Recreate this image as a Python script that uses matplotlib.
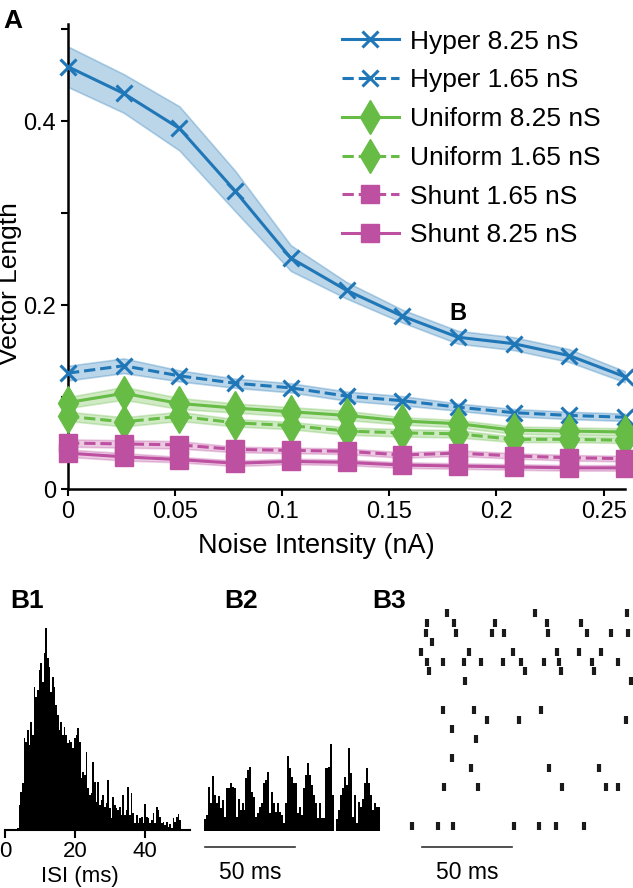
import numpy as np
import matplotlib
matplotlib.use("Agg")
import matplotlib.pyplot as plt

plt.rcParams['font.family'] = ['Liberation Sans', 'DejaVu Sans']

# ---- panel A data ----
noise = [0, 0.026, 0.052, 0.078, 0.104, 0.13, 0.156, 0.182, 0.208, 0.234, 0.26]

hyper_825 = [0.459, 0.430, 0.392, 0.324, 0.251, 0.216, 0.188, 0.165, 0.158, 0.145, 0.122]
hyper_825_err = [0.022, 0.021, 0.024, 0.022, 0.014, 0.009, 0.007, 0.007, 0.007, 0.007, 0.006]
hyper_165 = [0.126, 0.134, 0.123, 0.115, 0.110, 0.101, 0.096, 0.089, 0.083, 0.080, 0.078]
hyper_165_err = [0.008, 0.008, 0.006, 0.005, 0.005, 0.005, 0.005, 0.004, 0.004, 0.004, 0.004]
unif_825 = [0.094, 0.104, 0.093, 0.088, 0.084, 0.080, 0.074, 0.071, 0.064, 0.063, 0.062]
unif_825_err = [0.006, 0.007, 0.006, 0.005, 0.005, 0.005, 0.004, 0.004, 0.004, 0.004, 0.004]
unif_165 = [0.079, 0.073, 0.079, 0.072, 0.069, 0.063, 0.061, 0.060, 0.054, 0.054, 0.053]
unif_165_err = [0.005, 0.005, 0.005, 0.004, 0.004, 0.004, 0.004, 0.004, 0.003, 0.003, 0.003]
shunt_165 = [0.050, 0.049, 0.048, 0.043, 0.042, 0.041, 0.037, 0.039, 0.036, 0.034, 0.033]
shunt_165_err = [0.004, 0.004, 0.004, 0.003, 0.003, 0.003, 0.003, 0.003, 0.003, 0.003, 0.003]
shunt_825 = [0.039, 0.035, 0.032, 0.028, 0.030, 0.029, 0.026, 0.025, 0.024, 0.023, 0.023]
shunt_825_err = [0.004, 0.004, 0.003, 0.003, 0.003, 0.003, 0.003, 0.003, 0.003, 0.003, 0.003]

# ---- panel B1: ISI histogram (counts) ----
isi_start = 3.4
isi_bin = 0.48
isi_counts = [2, 25, 38, 47, 92, 88, 100, 85, 108, 95, 143, 133, 140, 160, 167, 148,
              177, 202, 172, 163, 138, 153, 143, 125, 115, 100, 108, 95, 103, 95, 87, 90,
              88, 82, 92, 95, 102, 88, 52, 58, 55, 78, 42, 35, 37, 68, 48, 28,
              48, 25, 30, 35, 23, 27, 50, 22, 12, 33, 25, 22, 20, 23, 15, 35, 15,
              20, 43, 15, 37, 17, 7, 15, 7, 12, 13, 7, 26, 13, 12, 7, 10,
              17, 7, 23, 20, 13, 7, 8, 5, 8, 3, 6, 2, 12, 8, 13, 16, 10]

# ---- panel B2: spike-time histogram ----
psth_bin = 1.1
psth_counts = [12, 16, 44, 28, 55, 36, 28, 35, 23, 31, 14, 43, 43, 48, 44, 43,
               14, 32, 21, 28, 21, 53, 61, 64, 39, 34, 14, 18, 24, 28, 48, 51,
               59, 18, 39, 28, 19, 28, 19, 16, 8, 28, 75, 63, 54, 48,
               48, 18, 24, 16, 43, 56, 68, 56, 46, 36, 28, 13, 28, 13, 13, 63,
               63, 64, 87, 36, 0, 12, 21, 36, 43, 54, 46, 83, 58, 14, 36, 8,
               29, 24, 32, 48, 63, 48, 36, 21, 28, 24, 24]

# ---- panel B3: raster (trial -> spike times, ms) ----
raster_trials = {
    0: [24.1, 73.1, 124.4],
    1: [13.3, 28.1, 51.1, 80.0, 98.5],
    2: [12.4, 29.3, 49.4, 56.1, 80.2, 102.2, 115.2, 125.0],
    3: [16.1],
    4: [9.8, 36.7, 60.7, 85.2, 97.6, 109.8],
    5: [13.0, 22.2, 33.7, 43.0, 55.6, 65.2, 78.3, 86.5, 104.6, 119.1],
    6: [14.3, 67.4, 87.6, 106.1],
    7: [34.4, 126.3],
    10: [21.9, 39.1, 76.3],
    11: [46.3, 64.3, 123.5],
    12: [26.9],
    13: [40.2],
    15: [26.9],
    16: [37.6, 80.9, 108.7],
    18: [22.8, 41.5, 88.0, 112.6, 119.4],
    22: [4.6, 19.4, 27.8, 61.5, 75.4, 84.6, 100.4],
}

blue = '#2077b7'
green = '#67bc45'
pink = '#bd50a1'

fig = plt.figure(figsize=(6.33, 8.88), dpi=100)

# ================= panel A =================
ax = fig.add_axes([0.1074, 0.4493, 0.8800, 0.5232])

series = [
    (hyper_825, hyper_825_err, blue, '-', 'x', 'Hyper 8.25 nS'),
    (hyper_165, hyper_165_err, blue, '--', 'x', 'Hyper 1.65 nS'),
    (unif_825, unif_825_err, green, '-', 'd', 'Uniform 8.25 nS'),
    (unif_165, unif_165_err, green, '--', 'd', 'Uniform 1.65 nS'),
    (shunt_165, shunt_165_err, pink, '--', 's', 'Shunt 1.65 nS'),
    (shunt_825, shunt_825_err, pink, '-', 's', 'Shunt 8.25 nS'),
]
msize = {'x': 11, 'd': 17, 's': 13}
for vals, err, col, ls, mk, lab in series:
    vals = np.array(vals)
    err = np.array(err)
    ax.fill_between(noise, vals - err, vals + err, color=col, alpha=0.3, lw=1.2)
    ax.plot(noise, vals, color=col, ls=ls, lw=2.2, marker=mk, ms=msize[mk],
            mew=2.2 if mk == 'x' else 1, label=lab, clip_on=False, zorder=3)

ax.set_xlim(0, 0.26)
ax.set_ylim(0, 0.505)
ax.set_xticks([0, 0.05, 0.1, 0.15, 0.2, 0.25])
ax.set_xticklabels(['0', '0.05', '0.1', '0.15', '0.2', '0.25'])
ax.set_yticks([0, 0.1, 0.2, 0.3, 0.4, 0.5])
ax.set_yticklabels(['0', '', '0.2', '', '0.4', ''])
ax.tick_params(labelsize=17, width=1.5, length=5, direction='out')
for s in ['top', 'right']:
    ax.spines[s].set_visible(False)
for s in ['left', 'bottom']:
    ax.spines[s].set_linewidth(1.8)
ax.set_xlabel('Noise Intensity (nA)', fontsize=19.5)
ax.xaxis.set_label_coords(0.445, -0.095)
ax.set_ylabel('Vector Length', fontsize=19)
ax.yaxis.set_label_coords(-0.082, 0.443)

ax.legend(loc='upper left', bbox_to_anchor=(0.449, 1.04), frameon=False, fontsize=19,
          handlelength=2.15, handletextpad=0.45, labelspacing=0.56)
ax.text(0.182, 0.191, 'B', fontsize=17, fontweight='bold', ha='center', va='center')
fig.text(0.006, 0.99, 'A', fontsize=19, fontweight='bold', ha='left', va='top')

# ================= panel B1 =================
ax1 = fig.add_axes([0.0079, 0.0653, 0.2923, 0.2365])
edges = isi_start + isi_bin * np.arange(len(isi_counts))
ax1.bar(edges, isi_counts, width=isi_bin, align='edge', color='black', lw=0)
ax1.set_xlim(0, 53)
ax1.set_ylim(0, 210)
for s in ['top', 'right', 'left']:
    ax1.spines[s].set_visible(False)
ax1.spines['bottom'].set_linewidth(1.5)
ax1.set_yticks([])
ax1.set_xticks([0, 20, 40])
ax1.tick_params(labelsize=16, width=1.5, length=6, pad=2)
ax1.set_xlabel('ISI (ms)', fontsize=16)
ax1.xaxis.set_label_coords(0.405, -0.17)
fig.text(0.016, 0.323, 'B1', fontsize=19, fontweight='bold', ha='left', va='center')

# ================= panel B2 =================
ax2 = fig.add_axes([0.3223, 0.009, 0.278, 0.1577])
edges2 = psth_bin * np.arange(len(psth_counts))
ax2.bar(edges2, psth_counts, width=psth_bin, align='edge', color='black', lw=0)
ax2.set_xlim(0, 98)
ax2.set_ylim(-49, 91)
ax2.plot([0.5, 50.5], [-16, -16], color='#333333', lw=1.2)
ax2.text(25.5, -41, '50 ms', fontsize=16.5, ha='center', va='center')
ax2.axis('off')
fig.text(0.355, 0.323, 'B2', fontsize=19, fontweight='bold', ha='left', va='center')

# ================= panel B3 =================
ax3 = fig.add_axes([0.6367, 0.009, 0.3633, 0.3153])
for trial, times in raster_trials.items():
    ax3.plot(times, [trial] * len(times), ls='none', marker='|', ms=5.5, mew=3,
             color='#1a1a1a')
ax3.set_xlim(-0.2, 127.6)
ax3.set_ylim(27.6, -1.38)
ax3.plot([10.6, 60.6], [24.2, 24.2], color='#333333', lw=1.2)
ax3.text(35.6, 26.8, '50 ms', fontsize=16.5, ha='center', va='center')
ax3.axis('off')
fig.text(0.588, 0.323, 'B3', fontsize=19, fontweight='bold', ha='left', va='center')

fig.savefig('out.png', dpi=100)
